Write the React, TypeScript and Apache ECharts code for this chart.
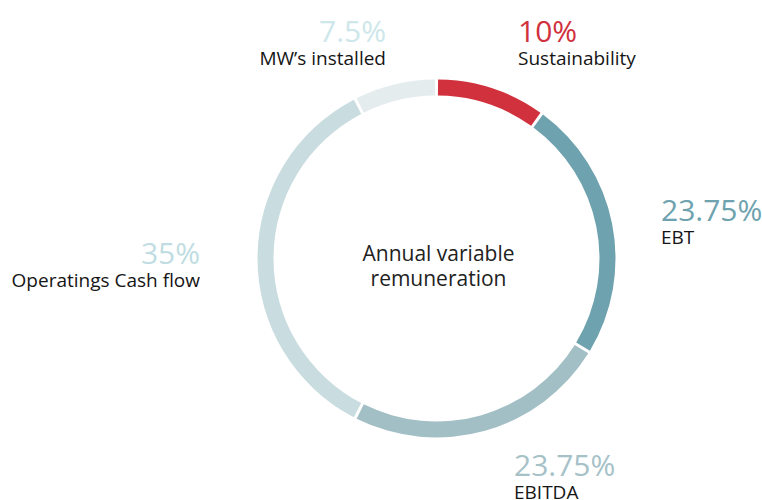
import React, { useEffect, useRef } from "react";
import * as echarts from "echarts";

const categories = ["Sustainability", "EBT", "EBITDA", "Operatings Cash flow", "MW’s installed"];
const values = [10, 23.75, 23.75, 35, 7.5];
const valueLabels = ["10%", "23.75%", "23.75%", "35%", "7.5%"];
const sliceColors = ["#D0313C", "#6DA2AE", "#A2BFC6", "#C9DCE0", "#E4ECEE"];
const valueColors = ["#D0313C", "#6DA2AE", "#A6C2C8", "#BFDDE2", "#CDE7EB"];
const centerLines = ["Annual variable", "remuneration"];

// label layout: [x, value baseline, name baseline, align]
const labelLayout: [number, number, number, "left" | "right"][] = [
  [518, 41, 65, "left"],
  [661, 220, 244, "left"],
  [514, 475, 499, "left"],
  [200, 263, 287, "right"],
  [386, 41, 65, "right"],
];

const FONT = "'Open Sans', 'Noto Sans', sans-serif";
const VALUE_SIZE = 30;
const NAME_SIZE = 19;
const CENTER_SIZE = 21;
// convert baseline to zrender "middle" y
const mid = (baseline: number, size: number) => baseline - 0.35 * size;

export default function App() {
  const ref = useRef<HTMLDivElement>(null);
  useEffect(() => {
    if (!ref.current) return;
    const chart = echarts.init(ref.current, null, { renderer: "svg" });
    const graphics: any[] = [];
    categories.forEach((c, i) => {
      const [x, vb, nb, align] = labelLayout[i];
      graphics.push({
        type: "text",
        x,
        y: mid(vb, VALUE_SIZE),
        style: {
          text: valueLabels[i],
          fill: valueColors[i],
          font: `400 ${VALUE_SIZE}px ${FONT}`,
          textAlign: align,
          textVerticalAlign: "middle",
        },
      });
      graphics.push({
        type: "text",
        x,
        y: mid(nb, NAME_SIZE),
        style: {
          text: c,
          fill: "#151515",
          font: `400 ${NAME_SIZE}px ${FONT}`,
          textAlign: align,
          textVerticalAlign: "middle",
        },
      });
    });
    [260, 285].forEach((b, i) => {
      graphics.push({
        type: "text",
        x: 438.5,
        y: mid(b, CENTER_SIZE),
        style: {
          text: centerLines[i],
          fill: "#222",
          font: `400 ${CENTER_SIZE}px ${FONT}`,
          textAlign: "center",
          textVerticalAlign: "middle",
        },
      });
    });
    chart.setOption({
      animation: false,
      backgroundColor: "#fff",
      series: [
        {
          type: "pie",
          center: [436.5, 258.5],
          radius: [163, 179],
          startAngle: 90,
          clockwise: true,
          padAngle: 1,
          label: { show: false },
          labelLine: { show: false },
          emphasis: { disabled: true },
          data: categories.map((c, i) => ({
            name: c,
            value: values[i],
            itemStyle: { color: sliceColors[i] },
          })),
        },
      ],
      graphic: graphics,
    });
    return () => chart.dispose();
  }, []);
  return (
    <div
      ref={ref}
      style={{ position: "fixed", left: 0, top: 0, width: 762, height: 500 }}
    />
  );
}
